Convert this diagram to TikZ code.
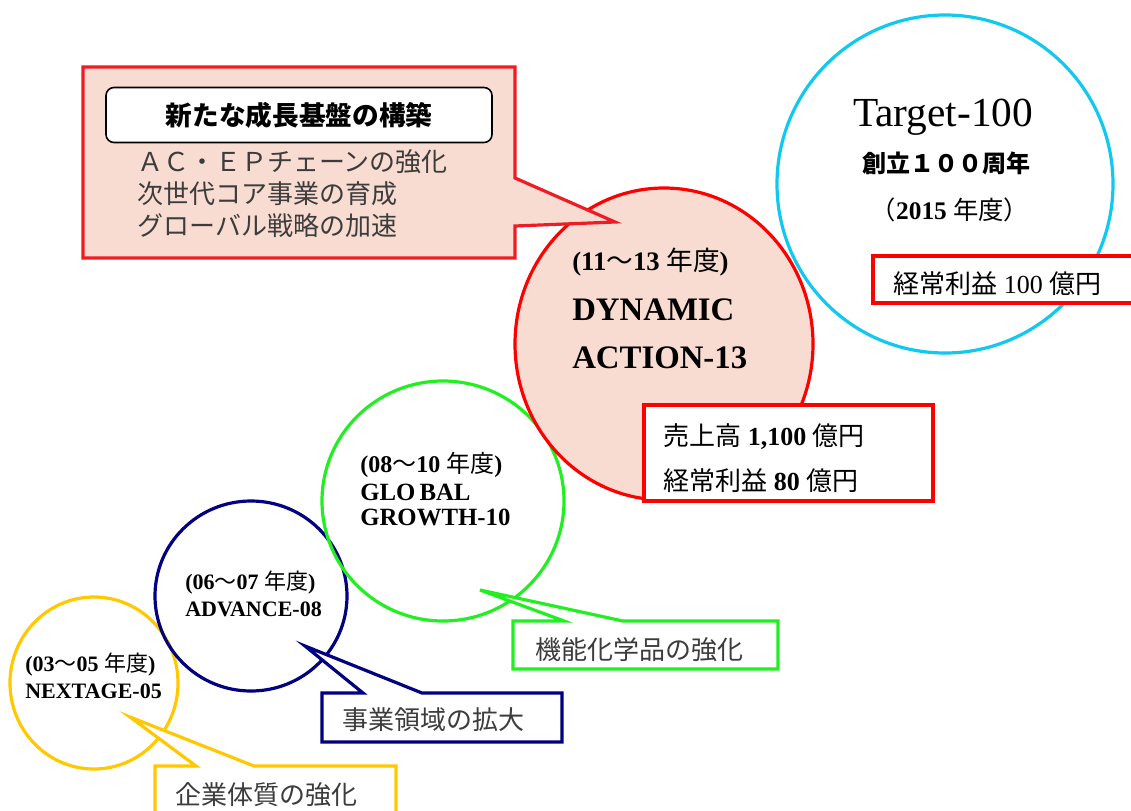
\documentclass[tikz,border=0pt]{standalone}
\usepackage{fontspec}
\setmainfont{Liberation Serif}
\newfontfamily\cjk{Noto Sans CJK JP}
\newcommand{\jp}[1]{{\cjk\mdseries #1}}
\newcommand{\fsz}[1]{\fontsize{#1}{#1}\selectfont}
\definecolor{cyanc}{HTML}{10C8F0}
\definecolor{redc}{HTML}{FF0000}
\definecolor{calloutred}{HTML}{EE1C25}
\definecolor{salmon}{HTML}{F9DCD1}
\definecolor{greenc}{HTML}{22EE22}
\definecolor{navyc}{HTML}{000080}
\definecolor{yellowc}{HTML}{FFC800}
\definecolor{grayt}{HTML}{3C3C3C}
\tikzset{
  ring/.style={line width=2.4pt},
  lbl/.style={anchor=west, inner sep=0pt},
  ctr/.style={anchor=center, inner sep=0pt},
  calloutbox/.style={line width=2.4pt, fill=white, line join=miter},
}
\begin{document}
\begin{tikzpicture}[x=0.75pt,y=-0.75pt]
\useasboundingbox (0,0) rectangle (1131,810);
% phase circles
\draw[ring, draw=yellowc] (94,683) ellipse [x radius=84, y radius=86];
\draw[ring, draw=navyc] (251,596) ellipse [x radius=96, y radius=95];
\draw[ring, draw=greenc] (443,501) ellipse [x radius=121, y radius=120];
\draw[ring, draw=cyanc] (945,184) ellipse [x radius=168, y radius=169];
\draw[ring, draw=redc, fill=salmon] (664,344) ellipse [x radius=149, y radius=156];
% salmon callout
\draw[line width=2.4pt, draw=calloutred, fill=salmon, line join=miter]
  (83,67) -- (515,67) -- (515,178) -- (615,222) -- (515,226) -- (515,258) -- (83,258) -- cycle;
\node[draw=black, line width=1.2pt, fill=white, rounded corners=6pt, minimum width=386*0.75pt, minimum height=55*0.75pt, inner sep=0pt] (title) at (299,115) {\cjk\bfseries\fsz{20}新たな成長基盤の構築};
\node[lbl, text=grayt] (l1) at (137,162) {\cjk\fsz{19.5}ＡＣ・ＥＰチェーンの強化};
\node[lbl, text=grayt] (l2) at (137,194) {\cjk\fsz{19.5}次世代コア事業の育成};
\node[lbl, text=grayt] (l3) at (137,226) {\cjk\fsz{19.5}グローバル戦略の加速};
% value boxes
\draw[ring, draw=redc, fill=white] (644,405) rectangle (933,501);
\draw[ring, draw=redc, fill=white] (873,256) rectangle (1140,303);
% small callouts
\draw[calloutbox, draw=greenc] (513,621) -- (564,621) -- (480,590) -- (623,621) -- (778,621) -- (778,669) -- (513,669) -- cycle;
\draw[calloutbox, draw=navyc] (322,693) -- (363,693) -- (305,646) -- (422,693) -- (562,693) -- (562,742) -- (322,742) -- cycle;
\draw[calloutbox, draw=yellowc] (155,766) -- (196,766) -- (130,717) -- (254,766) -- (396,766) -- (396,830) -- (155,830) -- cycle;
% Target-100
\node[ctr] (t100) at (943,117) {\fsz{31}Target-100};
\node[ctr] (soritsu) at (946,163) {\cjk\bfseries\fsz{18}創立１００周年};
\node[ctr] (y2015) at (950,210) {\bfseries\fsz{19}\jp{（}2015 \jp{年度）}};
\node[lbl] (rieki100) at (893,284) {\fsz{19.5}\jp{経常利益} 100 \jp{億円}};
% DYNAMIC ACTION-13
\node[lbl] (p13) at (572,262) {\bfseries\fsz{20}(11\jp{～}13 \jp{年度})};
\node[lbl] (dyn) at (572,310) {\bfseries\fsz{24.6}DYNAMIC};
\node[lbl] (act) at (572,358) {\bfseries\fsz{24.6}ACTION-13};
\node[lbl] (sales) at (663,437) {\bfseries\fsz{19.5}\jp{売上高} 1,100 \jp{億円}};
\node[lbl] (rieki80) at (663,481) {\bfseries\fsz{19.5}\jp{経常利益} 80 \jp{億円}};
% GLOBAL GROWTH-10
\node[lbl] (p10) at (360,465) {\bfseries\fsz{18}(08\jp{～}10 \jp{年度})};
\node[lbl] (glob) at (360,492) {\bfseries\fsz{18.6}GLO\,BAL};
\node[lbl] (grow) at (360,517) {\bfseries\fsz{18.6}GROWTH-10};
% ADVANCE-08
\node[lbl] (p08) at (185,583) {\bfseries\fsz{16.5}(06\jp{～}07 \jp{年度})};
\node[lbl] (adv) at (185,609) {\bfseries\fsz{16.5}ADVANCE-08};
% NEXTAGE-05
\node[lbl] (p05) at (25,665) {\bfseries\fsz{16.5}(03\jp{～}05 \jp{年度})};
\node[lbl] (nxt) at (25,691) {\bfseries\fsz{16.5}NEXTAGE-05};
% callout texts
\node[lbl, text=grayt] (kino) at (535,650) {\cjk\fsz{19.5}機能化学品の強化};
\node[lbl, text=grayt] (jigyo) at (342,720) {\cjk\fsz{19.5}事業領域の拡大};
\node[lbl, text=grayt] (kigyo) at (175,795) {\cjk\fsz{19.5}企業体質の強化};
\end{tikzpicture}
\end{document}
